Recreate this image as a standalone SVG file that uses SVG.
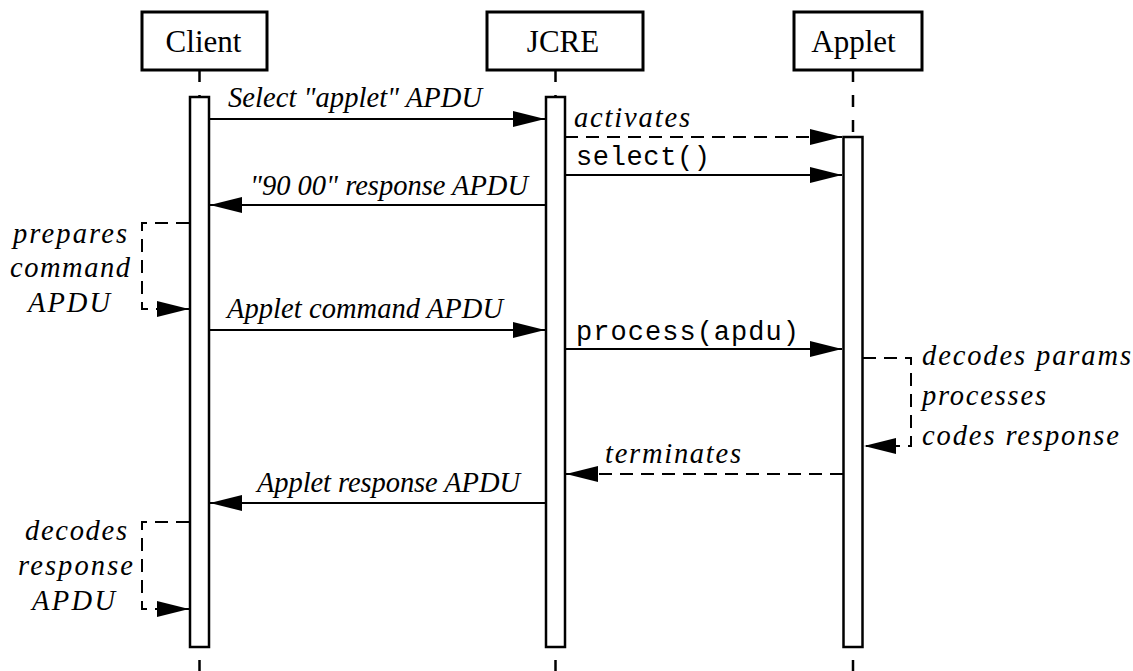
<svg xmlns="http://www.w3.org/2000/svg" width="1133" height="671" viewBox="0 0 1133 671">
<defs>
<style>
.box{fill:#fff;stroke:#000;stroke-width:3}
.bar{fill:#fff;stroke:#000;stroke-width:2.5}
.life{stroke:#000;stroke-width:2.5;stroke-dasharray:12 13;fill:none}
.msg{stroke:#000;stroke-width:2;fill:none}
.dash{stroke:#000;stroke-width:2;fill:none;stroke-dasharray:13 8}
.title{font-family:"Liberation Serif","Times New Roman",serif;font-size:31px;fill:#000;text-anchor:middle}
.lbl{font-family:"Liberation Serif","Times New Roman",serif;font-style:italic;font-size:28.5px;fill:#000}
.mono{font-family:"Liberation Mono","Courier New",monospace;font-size:27px;fill:#000}
</style>
<marker id="ah" markerUnits="userSpaceOnUse" markerWidth="34" markerHeight="18" refX="32" refY="8" orient="auto">
<path d="M0,0 L32,8 L0,16 Z" fill="#000"/>
</marker>
</defs>
<rect width="1133" height="671" fill="#fff"/>

<g id="client">
<line class="life" x1="199.5" y1="70" x2="199.5" y2="97"/>
<line class="life" x1="199.5" y1="660" x2="199.5" y2="671"/>
<rect class="box" x="142" y="12" width="125" height="58"/>
<text class="title" x="203.5" y="52">Client</text>
<rect class="bar" x="190" y="97" width="19" height="550"/>
</g>

<g id="jcre">
<line class="life" x1="555.5" y1="70" x2="555.5" y2="97"/>
<line class="life" x1="555.5" y1="660" x2="555.5" y2="671"/>
<rect class="box" x="487" y="12" width="156" height="58"/>
<text class="title" x="563" y="52">JCRE</text>
<rect class="bar" x="546" y="97" width="19" height="550"/>
</g>

<g id="applet">
<line class="life" x1="853" y1="70" x2="853" y2="137"/>
<line class="life" x1="853" y1="660" x2="853" y2="671"/>
<rect class="box" x="794" y="12" width="128" height="58"/>
<text class="title" x="853.5" y="52">Applet</text>
<rect class="bar" x="843.5" y="137" width="19" height="510"/>
</g>

<g id="connectors">
<line class="msg" x1="209" y1="119" x2="545" y2="119" marker-end="url(#ah)"/>
<line class="dash" x1="565" y1="137" x2="842" y2="137" marker-end="url(#ah)"/>
<line class="msg" x1="565" y1="175" x2="842" y2="175" marker-end="url(#ah)"/>
<line class="msg" x1="546" y1="205" x2="210" y2="205" marker-end="url(#ah)"/>
<path class="dash" d="M189,223 H142 V309 H189" marker-end="url(#ah)"/>
<line class="msg" x1="209" y1="330" x2="545" y2="330" marker-end="url(#ah)"/>
<line class="msg" x1="565" y1="349" x2="842" y2="349" marker-end="url(#ah)"/>
<path class="dash" d="M863,358 H911 V446 H864" marker-end="url(#ah)"/>
<line class="dash" x1="843" y1="474" x2="566" y2="474" marker-end="url(#ah)"/>
<line class="msg" x1="546" y1="503" x2="210" y2="503" marker-end="url(#ah)"/>
<path class="dash" d="M189,522 H142 V609 H189" marker-end="url(#ah)"/>
</g>

<g id="labels">
<text class="lbl" x="228" y="107" textLength="254">Select "applet" APDU</text>
<text class="lbl" x="574" y="127" textLength="116">activates</text>
<text class="mono" x="576" y="165" textLength="134">select()</text>
<text class="lbl" x="250" y="195" textLength="278">"90 00" response APDU</text>
<text class="lbl" x="13" y="243" textLength="114">prepares</text>
<text class="lbl" x="10" y="277" textLength="120">command</text>
<text class="lbl" x="28" y="312" textLength="82">APDU</text>
<text class="lbl" x="227" y="318" textLength="276">Applet command APDU</text>
<text class="mono" x="576" y="340" textLength="223">process(apdu)</text>
<text class="lbl" x="922" y="365" textLength="209">decodes params</text>
<text class="lbl" x="922" y="405" textLength="124">processes</text>
<text class="lbl" x="922" y="445" textLength="197">codes response</text>
<text class="lbl" x="605" y="463" textLength="136">terminates</text>
<text class="lbl" x="257" y="492" textLength="263">Applet response APDU</text>
<text class="lbl" x="25" y="540" textLength="102">decodes</text>
<text class="lbl" x="18" y="575" textLength="115">response</text>
<text class="lbl" x="32" y="610" textLength="83">APDU</text>
</g>
</svg>
